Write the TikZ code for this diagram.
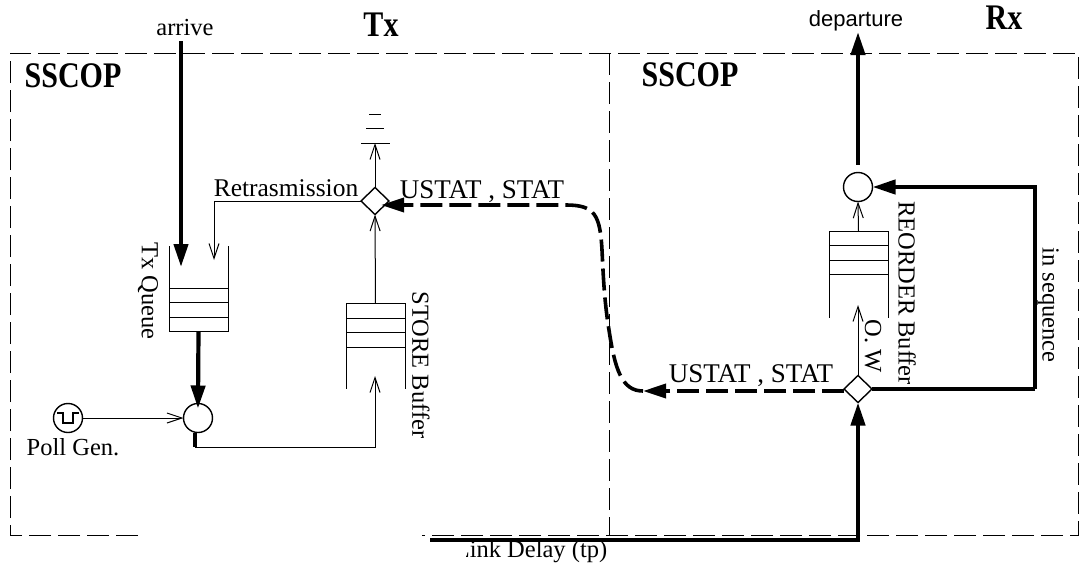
\documentclass[tikz,border=0pt]{standalone}
\usepackage{graphicx}
\usepackage{fontspec}
\setmainfont{Liberation Serif}
\setsansfont{Liberation Sans}
\usetikzlibrary{
	arrows.meta,
	positioning,
	shapes.geometric
}
\newcommand{\tallbold}[1]{\scalebox{1}[1.2]{#1}}
\tikzset{
	framedash/.style={line width=1pt, dash pattern=on 22pt off 7pt},
	light/.style={line width=1pt},
	heavy/.style={line width=4.2pt},
	statline/.style={line width=3.6pt, dash pattern=on 22pt off 7pt},
	opentip/.style={-{Straight Barb[length=15pt,width=10pt,line width=1pt]}},
	solidtip/.style={-{Triangle[length=23pt,width=14pt]}},
	cellbox/.style={draw, line width=1pt, rectangle, inner sep=0pt, outer sep=0pt, minimum width=59pt, minimum height=14.4pt},
	muxnode/.style={draw, line width=1.4pt, circle, inner sep=0pt, outer sep=0pt, minimum size=29pt},
	switchnode/.style={draw, line width=1.4pt, diamond, inner sep=0pt, outer sep=0pt, minimum width=28pt, minimum height=27pt},
	label/.style={font=\fontsize{24.5}{24.5}\selectfont, inner sep=0pt},
	statlabel/.style={font=\fontsize{27}{27}\selectfont, inner sep=0pt},
	sidelabel/.style={label, rotate=-90},
	title/.style={font=\fontsize{30}{30}\selectfont\bfseries, inner sep=0pt}
}

\begin{document}
\begin{tikzpicture}[x=1pt, y=-1pt]
	\useasboundingbox (0,0) rectangle (1079,573);
	% cornice
	\draw[framedash] (138,535) -- (10,535) -- (10,53) -- (1078,53) -- (1078,535) -- (422,535);
	\draw[framedash] (609,53) -- (609,535);
	\node[title] (txtitle) at (381,25) {\tallbold{Tx}};
	\node[title] (rxtitle) at (1004,18) {\tallbold{Rx}};
	\node[title] (sscoptx) at (73,76) {\tallbold{SSCOP}};
	\node[title] (sscoprx) at (690,75) {\tallbold{SSCOP}};
	% Tx
	\node[cellbox] (txq1) at (198.5,295.5) {};
	\node[cellbox, below=0pt of txq1] (txq2) {};
	\node[cellbox, below=0pt of txq2] (txq3) {};
	\draw[light] (txq1.north west) -- ++(0,-42);
	\draw[light] (txq1.north east) -- ++(0,-42);
	\node[sidelabel] (txqlabel) at (148,291) {Tx Queue};
	\node[cellbox] (stq1) at (375.5,311) {};
	\node[cellbox, below=0pt of stq1] (stq2) {};
	\node[cellbox, below=0pt of stq2] (stq3) {};
	\draw[light] (stq3.south west) -- ++(0,42);
	\draw[light] (stq3.south east) -- ++(0,42);
	\node[sidelabel] (stqlabel) at (421,365) {STORE Buffer};
	\node[muxnode] (txmux) at (198,418) {};
	\node[muxnode] (pollgen) at (68,418) {};
	\draw[line width=1.4pt] (pollgen.center) ++(-11,-5) -- ++(6,0) -- ++(0,10) -- ++(10,0) -- ++(0,-10) -- ++(6,0);
	\node[label] (polllabel) at (73,447) {Poll Gen.};
	\node[switchnode] (txswitch) at (375,201) {};
	\node[label, font=\fontsize{25.5}{25.5}\selectfont] (retrlabel) at (286,188) {Retrasmission};
	\node[statlabel] (statlabeltx) at (482,192) {USTAT , STAT};
	\node[label] (arrivelabel) at (185,28) {arrive};
	\coordinate (arrivein) at (181,41);
	\coordinate (arriveout) at (181,267);
	\coordinate (retrend) at (214,260);
	\coordinate (storeend) at (375,376);
	\coordinate (muxout) at (195,447);
	\coordinate (dropbar) at (375,143);
	\draw[heavy, solidtip] (arrivein) -- (arriveout);
	\draw[light, opentip] (txswitch.west) -| (retrend);
	\draw[heavy, solidtip, shorten >=-5pt] (txq3.south) -- (txmux.north);
	\draw[light, opentip] (pollgen.east) -- (txmux.west);
	\draw[heavy] (muxout |- txmux.south) -- (muxout);
	\draw[light, opentip] (muxout) -| (storeend);
	\draw[light, opentip] (stq1.north) -- (txswitch.south);
	\draw[light, opentip] (txswitch.north) -- (dropbar);
	% scarto
	\draw[light] (361,143) -- (390,143);
	\draw[light] (366,128) -- (384,128);
	\draw[light] (369,114) -- (381,114);
	% Rx
	\node[cellbox] (rxq1) at (858.5,238.5) {};
	\node[cellbox, below=0pt of rxq1] (rxq2) {};
	\node[cellbox, below=0pt of rxq2] (rxq3) {};
	\draw[light] (rxq3.south west) -- ++(0,43);
	\draw[light] (rxq3.south east) -- ++(0,43);
	\node[sidelabel] (rxqlabel) at (907,293) {REORDER Buffer};
	\node[muxnode] (rxmux) at (858,187) {};
	\node[switchnode] (rxswitch) at (858,389) {};
	\node[sidelabel] (owlabel) at (873,346) {O. W};
	\node[sidelabel] (seqlabel) at (1048,305) {in sequence};
	\node[statlabel] (statlabelrx) at (751,376) {USTAT , STAT};
	\node[label, font=\sffamily\fontsize{22}{22}\selectfont] (departlabel) at (856,21) {departure};
	\coordinate (departout) at (858,32);
	\coordinate (owend) at (858,305);
	\coordinate (loopcorner) at (1035,389);
	\draw[heavy, solidtip, shorten <=8pt] (rxmux.north) -- (departout);
	\draw[light, opentip] (rxq1.north) -- (rxmux.south);
	\draw[light, opentip] (rxswitch.north) -- (owend);
	\draw[heavy] (rxswitch.east) -- (loopcorner);
	\draw[heavy, solidtip] (loopcorner) |- (rxmux.east);
	% ritorno USTAT
	\coordinate (statbend) at (643,391);
	\coordinate (statin) at (381,205);
	\draw[statline, solidtip] (rxswitch.west |- statbend) -- (statbend);
	\draw[statline, solidtip] (statbend) .. controls (622,391) and (615,370) .. (609,330)
		.. controls (604,300) and (603,270) .. (602,250)
		.. controls (600,215) and (595,205) .. (566,205) -- (statin);
	% Link Delay
	\node[label] (linklabel) at (531,552) {Link Delay (tp)};
	\fill[white] (440,537) rectangle (466,563);
	\coordinate (linkin) at (430,540);
	\draw[heavy, solidtip] (linkin) -| (rxswitch.south);
\end{tikzpicture}
\end{document}
